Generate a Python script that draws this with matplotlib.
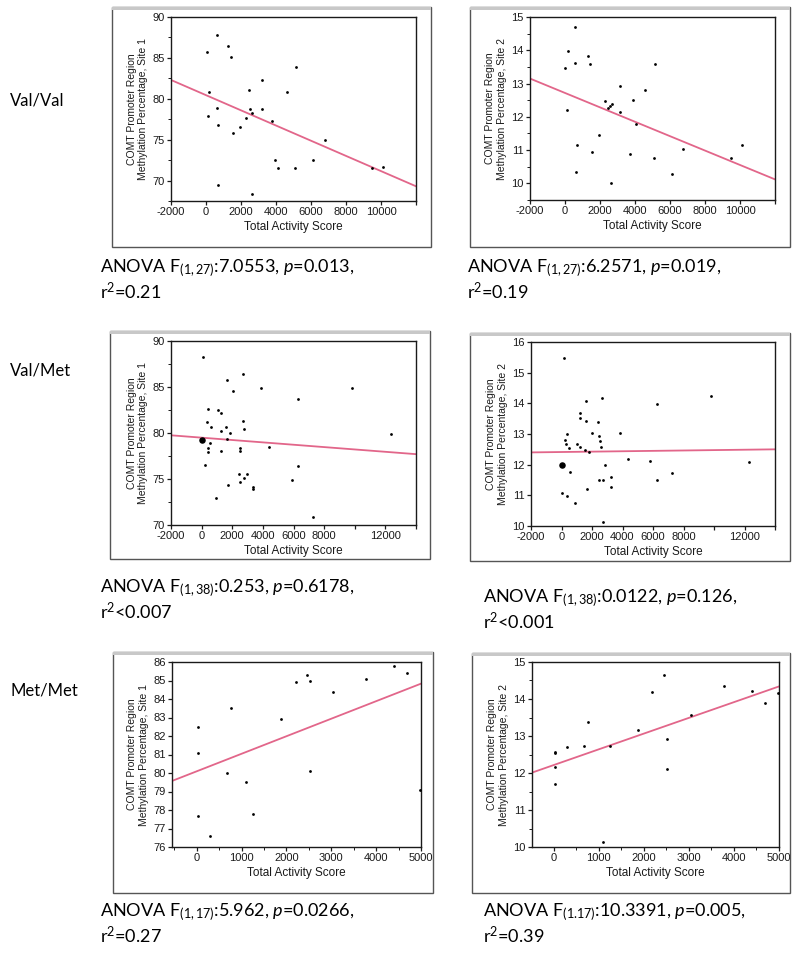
#!/usr/bin/env python

import matplotlib
matplotlib.use("Agg")
import matplotlib.pyplot as plt
from matplotlib.patches import Rectangle
from matplotlib.ticker import MultipleLocator

plt.rcParams['font.family'] = ['Liberation Sans', 'DejaVu Sans']
plt.rcParams['mathtext.fontset'] = 'custom'
plt.rcParams['mathtext.rm'] = 'Lato'
plt.rcParams['mathtext.it'] = 'Lato:italic'

# Val/Val, site 1
vv1_x = [610, 38, 1276, 1410, 190, 610, 133, 705, 1524, 1943, 2286, 2476, 2514, 2648,
         3181, 3181, 3752, 3924, 4095, 4648, 5162, 5086, 6133, 6800, 667, 2648, 9467, 10133]
vv1_y = [87.8, 85.7, 86.4, 85.1, 80.8, 78.9, 77.9, 76.8, 75.8, 76.5, 77.6, 81.1, 78.7, 78.2,
         82.3, 78.7, 77.3, 72.5, 71.5, 80.8, 83.9, 71.5, 72.5, 75.0, 69.4, 68.3, 71.5, 71.7]
vv1_fit_x = [-2000, 12000]
vv1_fit_y = [82.3, 69.3]

# Val/Val, site 2
vv2_x = [588, 190, 19, 588, 1289, 1422, 114, 2275, 2465, 2580, 2680, 3147, 3147, 3905,
         4588, 4076, 1915, 1535, 683, 645, 2635, 3735, 5081, 5138, 6123, 6750, 9467, 10133]
vv2_y = [14.70, 13.97, 13.47, 13.63, 13.82, 13.60, 12.20, 12.47, 12.25, 12.33, 12.38, 12.92, 12.15, 12.50,
         12.80, 11.77, 11.44, 10.94, 11.14, 10.34, 10.01, 10.87, 10.77, 13.60, 10.27, 11.04, 10.75, 11.15]
vv2_fit_x = [-2000, 12000]
vv2_fit_y = [13.15, 10.12]

# Val/Met, site 1
vm1_x = [86, 1643, 2076, 2724, 3870, 6314, 9816, 411, 1059, 1276, 368, 584, 1276, 1622,
         1881, 1665, 2681, 2789, 519, 411, 411, 1276, 2530, 2530, 4411, 195, 2465, 2941,
         2530, 2789, 1708, 3330, 3330, 951, 5881, 6314, 7286, 12368]
vm1_y = [88.3, 85.8, 84.6, 86.4, 84.9, 83.7, 84.9, 82.6, 82.5, 82.2, 81.2, 80.6, 80.2, 80.6,
         80.0, 79.4, 81.3, 80.4, 78.9, 78.4, 77.9, 78.0, 78.4, 78.0, 78.5, 76.5, 75.5, 75.5,
         74.7, 75.1, 74.4, 74.1, 73.9, 72.9, 74.9, 76.4, 70.9, 79.9]
vm1_big_x = [0]
vm1_big_y = [79.2]
vm1_fit_x = [-2000, 14000]
vm1_fit_y = [79.75, 77.7]

# Val/Met, site 2
vm2_x = [152, 1630, 2674, 6283, 1217, 1217, 1609, 2391, 370, 261, 326, 478, 1022, 1239,
         1565, 1783, 2000, 2478, 2500, 2587, 3804, 4348, 5826, 543, 2870, 2478, 2717, 3261,
         3261, 1674, 22, 370, 870, 2739, 6283, 7261, 9800, 12300]
vm2_y = [15.48, 14.07, 14.19, 13.99, 13.70, 13.53, 13.43, 13.40, 13.00, 12.82, 12.66, 12.53, 12.66, 12.58,
         12.48, 12.42, 13.02, 12.95, 12.77, 12.56, 13.02, 12.18, 12.13, 11.75, 11.99, 11.50, 11.50, 11.61,
         11.26, 11.21, 11.06, 10.99, 10.74, 10.14, 11.50, 11.72, 14.25, 12.10]
vm2_big_x = [40]
vm2_big_y = [12.0]
vm2_fit_x = [-2000, 14000]
vm2_fit_y = [12.40, 12.50]

# Met/Met, site 1
mm1_x = [30, 30, 30, 290, 684, 773, 1108, 1264, 1888, 2208, 2454, 2528, 2528, 3048, 3777, 4401, 4691, 4974]
mm1_y = [82.5, 81.1, 77.7, 76.6, 80.0, 83.5, 79.5, 77.8, 82.9, 84.9, 85.3, 85.0, 80.1, 84.4, 85.1, 85.8, 85.4, 79.1]
mm1_fit_x = [-550, 5000]
mm1_fit_y = [79.57, 84.83]

# Met/Met, site 2
mm2_x = [22, 22, 22, 22, 289, 674, 763, 1096, 1252, 1881, 2193, 2452, 2526, 2511, 3037, 3777, 4401, 4691, 4974]
mm2_y = [12.56, 12.53, 12.17, 11.70, 12.70, 12.74, 13.37, 10.13, 12.74, 13.15, 14.20, 14.65, 12.93, 12.12, 13.56,
         14.35, 14.22, 13.89, 14.15]
mm2_fit_x = [-480, 5000]
mm2_fit_y = [12.01, 14.34]

row_labels = ["Val/Val", "Val/Met", "Met/Met"]
stats_lines = [
    (r'ANOVA F$_{(1,27)}$:7.0553, $\mathit{p}$=0.013,', r'r$^2$=0.21'),
    (r'ANOVA F$_{(1,27)}$:6.2571, $\mathit{p}$=0.019,', r'r$^2$=0.19'),
    (r'ANOVA F$_{(1,38)}$:0.253, $\mathit{p}$=0.6178,', r'r$^2$<0.007'),
    (r'ANOVA F$_{(1,38)}$:0.0122, $\mathit{p}$=0.126,', r'r$^2$<0.001'),
    (r'ANOVA F$_{(1,17)}$:5.962, $\mathit{p}$=0.0266,', r'r$^2$=0.27'),
    (r'ANOVA F$_{(1.17)}$:10.3391, $\mathit{p}$=0.005,', r'r$^2$=0.39'),
]

W, H = 800, 955
PINK = '#e2668a'
INK = '#1a1a1a'


def px_rect(l, t, r, b):
    return [l / W, 1 - b / H, (r - l) / W, (b - t) / H]


fig = plt.figure(figsize=(W / 100, H / 100), dpi=100)

# Panel settings: data, axes box, outer frame, text position
panels = [
    dict(x=vv1_x, y=vv1_y, fx=vv1_fit_x, fy=vv1_fit_y, site=1,
         ax=(171, 17, 416, 201), box=(112, 7, 431, 247),
         xlim=(-2000, 12000), xt=range(-2000, 12001, 2000), hide=[12000],
         ylim=(67.5, 90), yt=5, ym=2.5, xm=None, txt=(100, 268)),
    dict(x=vv2_x, y=vv2_y, fx=vv2_fit_x, fy=vv2_fit_y, site=2,
         ax=(530, 17, 775, 200), box=(470, 7, 790, 247),
         xlim=(-2000, 12000), xt=range(-2000, 12001, 2000), hide=[12000],
         ylim=(9.5, 15), yt=1, ym=0.5, xm=None, txt=(467, 268)),
    dict(x=vm1_x, y=vm1_y, fx=vm1_fit_x, fy=vm1_fit_y, site=1, bx=vm1_big_x, by=vm1_big_y,
         ax=(171, 341, 416, 525), box=(110, 331, 430, 559),
         xlim=(-2000, 14000), xt=range(-2000, 14001, 2000), hide=[10000, 14000],
         ylim=(70, 90), yt=5, ym=2.5, xm=None, txt=(100, 588)),
    dict(x=vm2_x, y=vm2_y, fx=vm2_fit_x, fy=vm2_fit_y, site=2, bx=vm2_big_x, by=vm2_big_y,
         ax=(531, 342, 775, 526), box=(470, 333, 790, 561),
         xlim=(-2000, 14000), xt=range(-2000, 14001, 2000), hide=[10000, 14000],
         ylim=(10, 16), yt=1, ym=None, xm=None, txt=(483, 598)),
    dict(x=mm1_x, y=mm1_y, fx=mm1_fit_x, fy=mm1_fit_y, site=1,
         ax=(172, 662, 421, 847), box=(113, 652, 433, 893),
         xlim=(-550, 5000), xt=range(0, 5001, 1000), hide=[],
         ylim=(76, 86), yt=1, ym=None, xm=500, txt=(100, 912)),
    dict(x=mm2_x, y=mm2_y, fx=mm2_fit_x, fy=mm2_fit_y, site=2,
         ax=(532, 662, 779, 847), box=(472, 653, 790, 893),
         xlim=(-480, 5000), xt=range(0, 5001, 1000), hide=[],
         ylim=(10, 15), yt=1, ym=0.5, xm=500, txt=(483, 912)),
]

for i, p in enumerate(panels):
    # Outer frame
    l, t, r, b = p['box']
    fig.patches.append(Rectangle((l / W, 1 - b / H), (r - l) / W, (b - t) / H,
                                 transform=fig.transFigure, fill=False,
                                 edgecolor='#555555', lw=1.0))
    fig.patches.append(Rectangle((l / W, 1 - (t + 3) / H), (r - l) / W, 3 / H,
                                 transform=fig.transFigure, facecolor='#c8c8c8',
                                 edgecolor='none'))

    ax = fig.add_axes(px_rect(*p['ax']))
    ax.plot(p['fx'], p['fy'], color=PINK, lw=1.3, zorder=2)
    ax.scatter(p['x'], p['y'], s=4, color='black', zorder=3, linewidths=0)
    if 'bx' in p:
        ax.scatter(p['bx'], p['by'], s=22, color='black', zorder=3, linewidths=0)
    ax.set_xlim(*p['xlim'])
    ax.set_ylim(*p['ylim'])
    ax.set_xticks(list(p['xt']))
    ax.set_xticklabels(['' if v in p['hide'] else str(v) for v in p['xt']])
    ax.yaxis.set_major_locator(MultipleLocator(p['yt']))
    if p['ym']:
        ax.yaxis.set_minor_locator(MultipleLocator(p['ym']))
    if p['xm']:
        ax.xaxis.set_minor_locator(MultipleLocator(p['xm']))
    ax.tick_params(which='major', length=3, width=0.9, labelsize=8, pad=1.5, colors=INK)
    ax.tick_params(which='minor', length=2, width=0.7, colors=INK)
    for s in ax.spines.values():
        s.set_linewidth(1.0)
        s.set_color(INK)
    ax.set_xlabel("Total Activity Score", fontsize=8.5, labelpad=3, color=INK)
    ax.set_ylabel("COMT Promoter Region\nMethylation Percentage, Site %d" % p['site'],
                  fontsize=7.5, labelpad=3, color=INK)

    # Stats text below panel
    tx, ty = p['txt']
    fig.text(tx / W, 1 - ty / H, stats_lines[i][0], fontsize=13, family='Lato',
             va='center', ha='left')
    fig.text(tx / W, 1 - (ty + 23) / H, stats_lines[i][1], fontsize=13, family='Lato',
             va='center', ha='left')

# Row labels
for lab, yy in zip(row_labels, [100, 370, 690]):
    fig.text(10 / W, 1 - yy / H, lab, fontsize=12, family='Lato', va='center', ha='left')

fig.savefig("out.png", dpi=100)
